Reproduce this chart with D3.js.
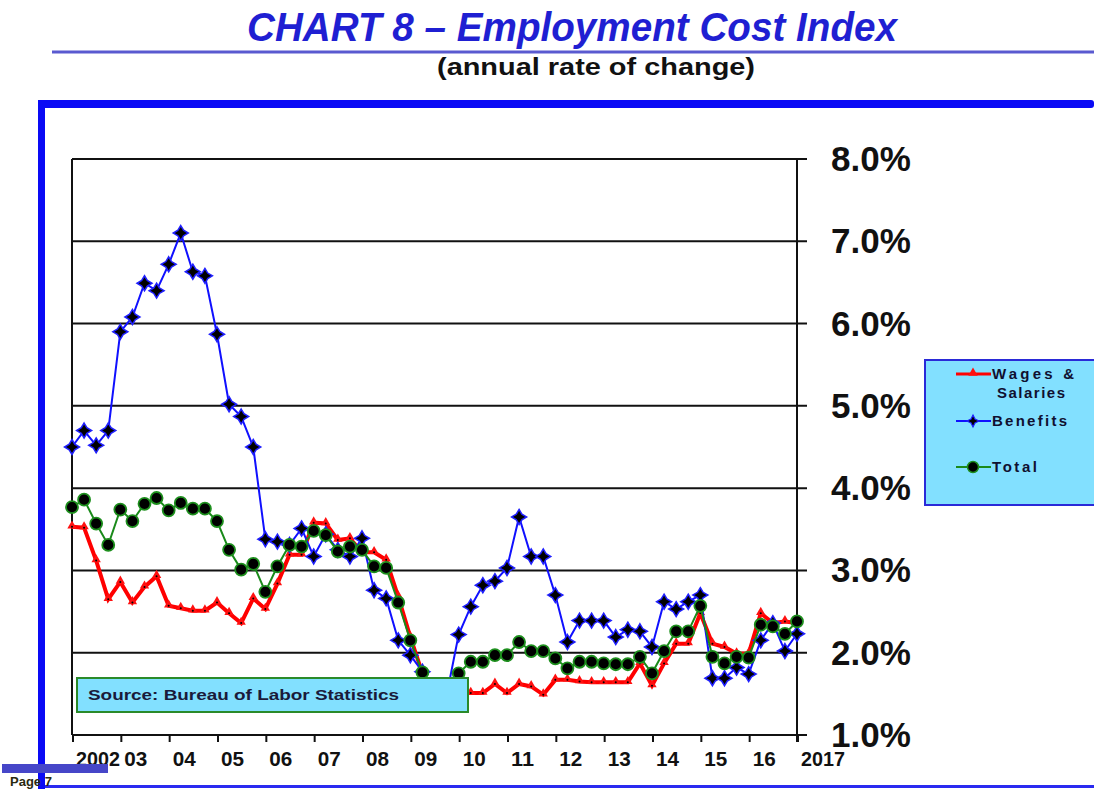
<!DOCTYPE html>
<html lang="en">
<head>
<meta charset="UTF-8">
<title>Employment Cost Index</title>
<style>
  body { margin: 0; background: #fff; overflow: hidden; }
  svg { display: block; font-family: "Liberation Sans", Arial, sans-serif; }
</style>
</head>
<body>
<div id="chart"></div>
<script src="https://d3js.org/d3.v7.min.js"></script>
<script>
// quarterly data, 2002 Q1 .. 2017 Q1 (61 points)
const yearLabels = ["2002","03","04","05","06","07","08","09","10","11","12","13","14","15","16","2017"];
const yTicks = [1, 2, 3, 4, 5, 6, 7, 8];

const wages = [3.53,3.52,3.12,2.65,2.86,2.61,2.80,2.93,2.57,2.54,2.51,2.51,2.61,2.48,2.36,2.66,
  2.53,2.84,3.19,3.19,3.58,3.57,3.37,3.39,3.22,3.22,3.13,2.68,2.19,1.75,1.50,1.48,
  1.52,1.51,1.51,1.62,1.51,1.62,1.59,1.49,1.67,1.67,1.65,1.64,1.64,1.64,1.64,1.87,
  1.60,1.87,2.11,2.11,2.48,2.11,2.07,1.99,1.99,2.48,2.36,2.38,2.36];

const benefits = [4.50,4.70,4.52,4.70,5.90,6.08,6.49,6.40,6.72,7.10,6.63,6.58,5.87,5.02,4.87,4.50,
  3.38,3.35,3.31,3.51,3.17,3.44,3.25,3.17,3.39,2.76,2.66,2.15,1.97,1.77,1.55,1.48,
  2.22,2.56,2.82,2.87,3.03,3.65,3.17,3.17,2.70,2.13,2.39,2.39,2.39,2.19,2.28,2.26,
  2.07,2.62,2.53,2.62,2.70,1.69,1.69,1.82,1.74,2.15,2.36,2.02,2.23];

const total = [3.77,3.86,3.57,3.31,3.74,3.60,3.81,3.88,3.73,3.82,3.75,3.75,3.60,3.25,3.01,3.08,
  2.74,3.05,3.31,3.29,3.48,3.43,3.23,3.29,3.25,3.05,3.03,2.61,2.15,1.76,1.50,1.55,
  1.75,1.89,1.89,1.97,1.97,2.13,2.02,2.02,1.93,1.81,1.89,1.89,1.87,1.86,1.86,1.95,
  1.75,2.02,2.26,2.26,2.57,1.95,1.87,1.95,1.94,2.34,2.32,2.23,2.38];

const width = 1094, height = 789;
const plotLeft = 72, plotRight = 797, plotTop = 159, plotBottom = 735;

const svg = d3.select('#chart').append('svg')
    .attr('width', width)
    .attr('height', height);

// title block
svg.append('text')
    .attr('x', 572).attr('y', 41)
    .attr('text-anchor', 'middle')
    .attr('textLength', 650).attr('lengthAdjust', 'spacingAndGlyphs')
    .style('font-size', '40px').style('font-weight', 'bold').style('font-style', 'italic')
    .style('fill', '#1f1fd2')
    .text('CHART 8 \u2013 Employment  Cost Index');

svg.append('line')
    .attr('x1', 52).attr('x2', width).attr('y1', 52).attr('y2', 52)
    .style('stroke', '#5a5ad0').style('stroke-width', 3);

svg.append('text')
    .attr('x', 596).attr('y', 75)
    .attr('text-anchor', 'middle')
    .attr('textLength', 318).attr('lengthAdjust', 'spacingAndGlyphs')
    .style('font-size', '23px').style('font-weight', 'bold')
    .style('fill', '#111')
    .text('(annual rate of change)');

// blue frame
svg.append('rect').attr('x', 38).attr('y', 100).attr('width', width - 38).attr('height', 8)
    .attr('rx', 3).style('fill', '#0a0af5');
svg.append('rect').attr('x', 38).attr('y', 100).attr('width', 7).attr('height', height - 100)
    .style('fill', '#0a0af5');
svg.append('rect').attr('x', 45).attr('y', 785).attr('width', width - 45).attr('height', 3)
    .style('fill', '#2a2af0');

// scales
const x = d3.scaleLinear().domain([0, wages.length - 1]).range([plotLeft, plotRight]);
const y = d3.scaleLinear().domain([1, 8]).range([plotBottom, plotTop]);

// grid lines with tick stubs on the right
svg.append('g')
  .selectAll('line')
  .data(yTicks)
  .join('line')
    .attr('x1', plotLeft).attr('x2', plotRight + 10)
    .attr('y1', d => y(d)).attr('y2', d => y(d))
    .style('stroke', '#111').style('stroke-width', 2);

// left frame and right axis
svg.append('line').attr('x1', plotLeft).attr('x2', plotLeft).attr('y1', y(8)).attr('y2', y(1))
    .style('stroke', '#111').style('stroke-width', 2);
svg.append('line').attr('x1', plotRight).attr('x2', plotRight).attr('y1', y(8)).attr('y2', y(1) + 7)
    .style('stroke', '#111').style('stroke-width', 2);

// right axis labels
svg.append('g')
  .selectAll('text')
  .data(yTicks)
  .join('text')
    .attr('x', 831)
    .attr('y', d => y(d) + 12)
    .style('font-size', '35px').style('font-weight', 'bold').style('fill', '#111')
    .text(d => d.toFixed(1) + '%');

// x axis ticks (one per year = every 4 quarters)
const yearIdx = yearLabels.map((d, i) => i * 4);
svg.append('g')
  .selectAll('line')
  .data(yearIdx)
  .join('line')
    .attr('x1', d => x(d) + 1).attr('x2', d => x(d) + 1)
    .attr('y1', plotBottom).attr('y2', plotBottom + 7)
    .style('stroke', '#111').style('stroke-width', 2);

svg.append('g')
  .selectAll('text')
  .data(yearLabels)
  .join('text')
    .attr('x', (d, i) => x(yearIdx[i]) + 4)
    .attr('y', 766)
    .attr('textLength', d => d.length === 4 ? 44 : 23)
    .attr('lengthAdjust', 'spacingAndGlyphs')
    .style('font-size', '20px').style('font-weight', 'bold').style('fill', '#111')
    .text(d => d);

// series
const line = d3.line().x((d, i) => x(i)).y(d => y(d));

const star = 'M0,-7.5L2.8,-2.8L7.5,0L2.8,2.8L0,7.5L-2.8,2.8L-7.5,0L-2.8,-2.8Z';
const tri = d3.symbol().type(d3.symbolTriangle).size(38)();

svg.append('path').datum(wages).attr('d', line)
    .style('fill', 'none').style('stroke', '#ff0000').style('stroke-width', 4);
svg.append('g').selectAll('path').data(wages).join('path')
    .attr('transform', (d, i) => `translate(${x(i)},${y(d) - 1})`)
    .attr('d', tri)
    .style('fill', '#ff1010');
svg.append('g').selectAll('circle').data(wages).join('circle')
    .attr('cx', (d, i) => x(i)).attr('cy', d => y(d))
    .attr('r', 1).style('fill', '#000');

svg.append('path').datum(benefits).attr('d', line)
    .style('fill', 'none').style('stroke', '#1010ff').style('stroke-width', 2);
svg.append('g').selectAll('path').data(benefits).join('path')
    .attr('transform', (d, i) => `translate(${x(i)},${y(d)})`)
    .attr('d', star)
    .style('fill', '#000').style('stroke', '#2020ff').style('stroke-width', 1.5);

svg.append('path').datum(total).attr('d', line)
    .style('fill', 'none').style('stroke', '#1a8a1a').style('stroke-width', 2);
svg.append('g').selectAll('circle').data(total).join('circle')
    .attr('cx', (d, i) => x(i)).attr('cy', d => y(d))
    .attr('r', 6)
    .style('fill', '#000').style('stroke', '#1d8f1d').style('stroke-width', 1.8);

// source box
svg.append('rect')
    .attr('x', 77).attr('y', 678).attr('width', 391).attr('height', 34)
    .style('fill', '#82e0ff').style('stroke', '#2a8a2a').style('stroke-width', 2);
svg.append('text')
    .attr('x', 88).attr('y', 700)
    .attr('textLength', 311).attr('lengthAdjust', 'spacingAndGlyphs')
    .style('font-size', '15px').style('font-weight', 'bold').style('fill', '#1a1a3a')
    .text('Source:  Bureau  of  Labor  Statistics');

// legend
const legend = svg.append('g');
legend.append('rect')
    .attr('x', 925).attr('y', 360).attr('width', 175).attr('height', 145)
    .style('fill', '#82e0ff').style('stroke', '#2a2ad8').style('stroke-width', 2);

const legendItems = [
  {name: 'Wages &', color: '#ff0000', y: 374, w: 82},
  {name: 'Benefits', color: '#1010ff', y: 421, w: 75},
  {name: 'Total', color: '#1a8a1a', y: 467, w: 45}
];

legend.selectAll('line')
  .data(legendItems)
  .join('line')
    .attr('x1', 956).attr('x2', 991)
    .attr('y1', d => d.y).attr('y2', d => d.y)
    .style('stroke', d => d.color).style('stroke-width', (d, i) => i === 0 ? 3 : 2);

legend.append('path').attr('d', tri).attr('transform', 'translate(973,373)').style('fill', '#ff1010');
legend.append('path').attr('d', 'M0,-6L2,-2L6,0L2,2L0,6L-2,2L-6,0L-2,-2Z')
    .attr('transform', 'translate(973,421)')
    .style('fill', '#000').style('stroke', '#2020ff').style('stroke-width', 1.2);
legend.append('circle').attr('cx', 973).attr('cy', 467).attr('r', 5.5)
    .style('fill', '#000').style('stroke', '#1d8f1d').style('stroke-width', 1.5);

legend.selectAll('text.lab')
  .data(legendItems)
  .join('text')
    .attr('class', 'lab')
    .attr('x', 992).attr('y', d => d.y + 5)
    .attr('textLength', d => d.w).attr('lengthAdjust', 'spacing')
    .style('font-size', '15px').style('font-weight', '600').style('fill', '#101030')
    .text(d => d.name);
legend.append('text')
    .attr('x', 997).attr('y', 398)
    .attr('textLength', 68).attr('lengthAdjust', 'spacing')
    .style('font-size', '15px').style('font-weight', '600').style('fill', '#101030')
    .text('Salaries');

// page footer
svg.append('rect').attr('x', 2).attr('y', 764).attr('width', 106).attr('height', 9)
    .style('fill', '#4646c8');
svg.append('text')
    .attr('x', 10).attr('y', 786)
    .style('font-size', '13px').style('font-weight', 'bold').style('fill', '#2a2a10')
    .text('Page 7');
</script>
</body>
</html>
